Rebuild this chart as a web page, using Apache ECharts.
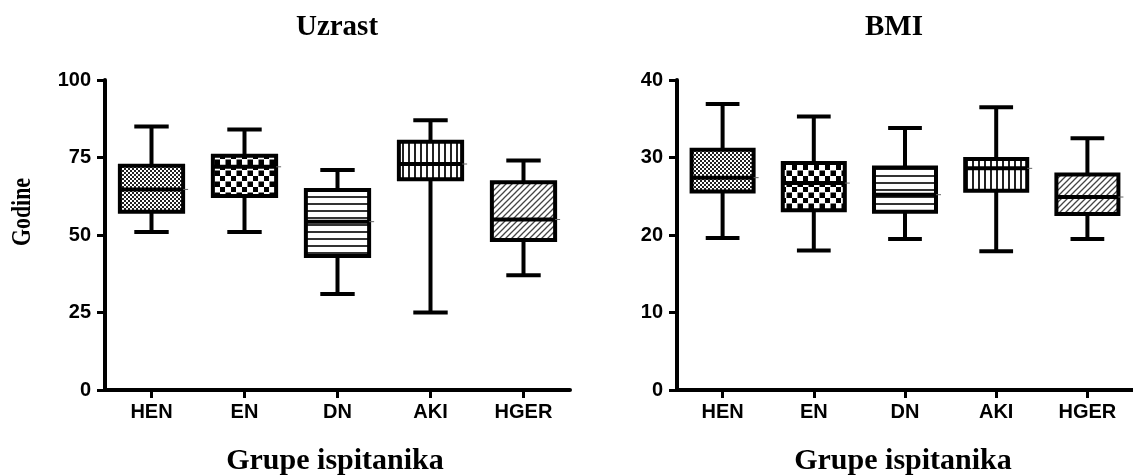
<!DOCTYPE html>
<html>
<head>
<meta charset="utf-8">
<script src="https://cdn.jsdelivr.net/npm/echarts@6/dist/echarts.min.js"></script>
<style>
  html, body { margin: 0; padding: 0; background: #fff; }
  #chart { width: 1133px; height: 476px; }
</style>
</head>
<body>
<div id="chart"></div>
<script>
// Groups of subjects
const groups = ['HEN', 'EN', 'DN', 'AKI', 'HGER'];

// Age (years): [min, Q1, median, Q3, max] per group
const ageStats = [
  [51, 57.5, 64.7, 72.3, 85],
  [51, 62.6, 72.0, 75.6, 84],
  [31, 43.2, 54.3, 64.5, 71],
  [25, 68.0, 72.9, 80.1, 87],
  [37, 48.4, 55.0, 67.0, 74]
];

// BMI: [min, Q1, median, Q3, max] per group
const bmiStats = [
  [19.6, 25.6, 27.4, 31.0, 36.9],
  [18.0, 23.2, 26.7, 29.3, 35.3],
  [19.5, 23.0, 25.2, 28.7, 33.8],
  [17.9, 25.7, 28.6, 29.8, 36.5],
  [19.5, 22.7, 24.9, 27.8, 32.5]
];

// Y axis ranges
const ageAxis = { min: 0, max: 100, interval: 25 };
const bmiAxis = { min: 0, max: 40, interval: 10 };

// ---- hatch patterns for the box fills ----
function makePattern(w, h, draw) {
  const c = document.createElement('canvas');
  c.width = w; c.height = h;
  const ctx = c.getContext('2d');
  ctx.fillStyle = '#fff';
  ctx.fillRect(0, 0, w, h);
  draw(ctx, w, h);
  return { image: c, repeat: 'repeat' };
}

const patterns = [
  // fine checker
  makePattern(4, 4, (ctx) => {
    ctx.fillStyle = '#222';
    ctx.fillRect(0, 0, 2, 2);
    ctx.fillRect(2, 2, 2, 2);
  }),
  // coarse checkerboard
  makePattern(11, 11, (ctx) => {
    ctx.fillStyle = '#000';
    ctx.fillRect(0, 0, 5, 5);
    ctx.fillRect(5.5, 5.5, 5.5, 5.5);
  }),
  // horizontal lines
  makePattern(8, 7, (ctx) => {
    ctx.fillStyle = '#333';
    ctx.fillRect(0, 0, 8, 2);
  }),
  // vertical lines
  makePattern(6, 8, (ctx) => {
    ctx.fillStyle = '#222';
    ctx.fillRect(0, 0, 2, 8);
  }),
  // diagonal hatch
  makePattern(6, 6, (ctx) => {
    ctx.strokeStyle = '#444';
    ctx.lineWidth = 1.3;
    ctx.beginPath();
    ctx.moveTo(-1, 7); ctx.lineTo(7, -1);
    ctx.moveTo(-1, 1); ctx.lineTo(1, -1);
    ctx.moveTo(5, 7); ctx.lineTo(7, 5);
    ctx.stroke();
  })
];

// Box-and-whisker glyph drawn through the axis coordinate system
function renderBox(params, api) {
  const idx = api.value(0);
  const pMin = api.coord([idx, api.value(1)]);
  const pQ1 = api.coord([idx, api.value(2)]);
  const pMed = api.coord([idx, api.value(3)]);
  const pQ3 = api.coord([idx, api.value(4)]);
  const pMax = api.coord([idx, api.value(5)]);
  const band = api.size([1, 0])[0];
  const bw = band * 0.68;
  const cw = band * 0.37;
  const cx = pMed[0];
  const line = (x1, y1, x2, y2, w, c) => ({
    type: 'line',
    shape: { x1, y1, x2, y2 },
    style: { stroke: c || '#000', lineWidth: w || 4, lineCap: 'butt' }
  });
  return {
    type: 'group',
    children: [
      line(cx, pMax[1], cx, pQ3[1]),
      line(cx, pQ1[1], cx, pMin[1]),
      line(cx - cw / 2, pMax[1], cx + cw / 2, pMax[1]),
      line(cx - cw / 2, pMin[1], cx + cw / 2, pMin[1]),
      {
        type: 'rect',
        shape: { x: cx - bw / 2, y: pQ3[1], width: bw, height: pQ1[1] - pQ3[1] },
        style: { fill: patterns[params.dataIndex], stroke: '#000', lineWidth: 4 }
      },
      line(cx - bw / 2, pMed[1], cx + bw / 2, pMed[1]),
      line(cx + bw / 2, pMed[1], cx + bw / 2 + 5, pMed[1], 1, '#666')
    ]
  };
}

function toRows(stats) {
  return stats.map((s, i) => [i].concat(s));
}

const sansBold = { fontFamily: 'Liberation Sans', fontWeight: 'bold', fontSize: 20, color: '#000' };

function xAxisFor(gridIndex) {
  return {
    type: 'category',
    gridIndex,
    data: groups,
    boundaryGap: true,
    axisLine: { show: true, lineStyle: { color: '#000', width: 4 } },
    axisTick: { show: true, alignWithLabel: true, length: 8, lineStyle: { color: '#000', width: 3 } },
    axisLabel: Object.assign({ margin: 12 }, sansBold),
    splitLine: { show: false }
  };
}

function yAxisFor(gridIndex, range) {
  return {
    type: 'value',
    gridIndex,
    min: range.min,
    max: range.max,
    interval: range.interval,
    axisLine: { show: true, lineStyle: { color: '#000', width: 4 } },
    axisTick: { show: true, length: 8, lineStyle: { color: '#000', width: 3 } },
    axisLabel: Object.assign({ margin: 14 }, sansBold),
    splitLine: { show: false }
  };
}

const serifBold = (size) => ({
  fontFamily: 'Liberation Serif',
  fontWeight: 'bold',
  fontSize: size,
  fill: '#000',
  align: 'center',
  verticalAlign: 'middle'
});

const chart = echarts.init(document.getElementById('chart'), null, { renderer: 'canvas' });

chart.setOption({
  backgroundColor: '#fff',
  animation: false,
  grid: [
    { left: 105, top: 80, width: 465, height: 310, containLabel: false },
    { left: 677, top: 80, width: 465, height: 310, containLabel: false }
  ],
  xAxis: [xAxisFor(0), xAxisFor(1)],
  yAxis: [yAxisFor(0, ageAxis), yAxisFor(1, bmiAxis)],
  series: [
    {
      type: 'custom',
      xAxisIndex: 0,
      yAxisIndex: 0,
      renderItem: renderBox,
      encode: { x: 0, y: [1, 2, 3, 4, 5] },
      data: toRows(ageStats),
      z: 3
    },
    {
      type: 'custom',
      xAxisIndex: 1,
      yAxisIndex: 1,
      renderItem: renderBox,
      encode: { x: 0, y: [1, 2, 3, 4, 5] },
      data: toRows(bmiStats),
      z: 3
    }
  ],
  graphic: [
    { type: 'text', x: 337, y: 28, style: Object.assign({ text: 'Uzrast' }, serifBold(29)) },
    { type: 'text', x: 894, y: 28, style: Object.assign({ text: 'BMI' }, serifBold(29)) },
    { type: 'text', x: 335, y: 461, style: Object.assign({ text: 'Grupe ispitanika' }, serifBold(30)) },
    { type: 'text', x: 903, y: 461, style: Object.assign({ text: 'Grupe ispitanika' }, serifBold(30)) },
    {
      type: 'text', x: 23, y: 212, rotation: Math.PI / 2, scaleX: 0.78,
      style: Object.assign({ text: 'Godine' }, serifBold(28))
    }
  ]
});
</script>
</body>
</html>
